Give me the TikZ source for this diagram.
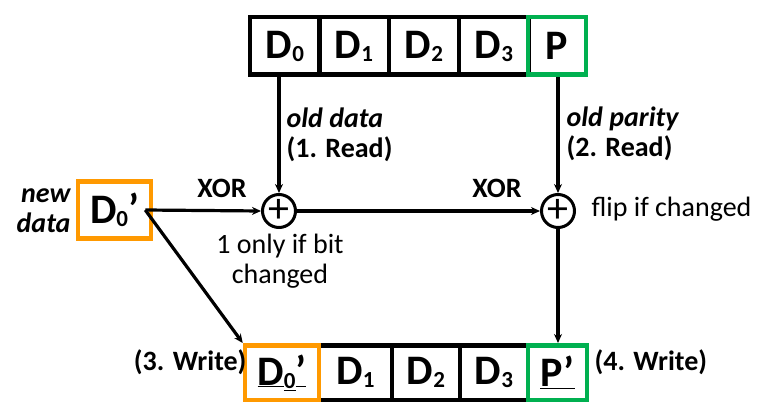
\documentclass[tikz,border=0pt]{standalone}
\usepackage{fontspec}
\setmainfont{Carlito}
\usepackage{tikz}
\usetikzlibrary{positioning,arrows.meta}
\definecolor{cellorange}{RGB}{255,153,0}
\definecolor{cellgreen}{RGB}{0,176,80}
\newcommand{\lowidx}[1]{\raisebox{-3pt}{\fontsize{23}{23}\selectfont #1}}
\tikzset{%
  every cell/.style={
    draw,
    line width=4.5pt,
    inner sep=0pt,
    font=\fontsize{42}{44}\selectfont\bfseries
  },
  xor gate/.style={
    circle,
    draw,
    line width=3pt,
    minimum size=33pt,
    inner sep=0pt,
    font=\fontsize{42}{42}\selectfont
  },
  note text/.style={
    inner sep=0pt,
    font=\fontsize{28}{30}\selectfont
  },
  label text/.style={
    note text,
    font=\fontsize{28}{30}\selectfont\bfseries
  },
}

\begin{document}
\begin{tikzpicture}[x=1pt, y=-1pt, > = {Stealth[length=9pt,width=8pt]}, line width=3.2pt]
\useasboundingbox (0,0) rectangle (782,420);
    % stripe before the write
    \node[every cell, minimum width=70pt, minimum height=57.5pt] (d0) at (285,46) {D\lowidx{0}};
    \foreach \i/\x in {1/354,2/424,3/494}
        \node[every cell, minimum width=70pt, minimum height=57.5pt] (d\i) at (\x,46) {D\lowidx{\i}};
    \node[every cell, draw=cellgreen, minimum width=58pt, minimum height=57.5pt] (p) at (557,46) {P};
    % stripe after the write
    \foreach \i/\x/\w in {1/355.5/73,2/426/68,3/494/68}
        \node[every cell, minimum width=\w pt, minimum height=54.5pt] (w\i) at (\x,372.5) {D\lowidx{\i}};
    \node[every cell, draw=cellorange, minimum width=74pt, minimum height=54.5pt] (w0) at (282,372.5) {\underline{D}\lowidx{\underline{0}}\underline{’}};
    \node[every cell, draw=cellgreen, minimum width=59pt, minimum height=54.5pt] (pw) at (557.5,372.5) {\underline{P’}};
    % new value and the two xors
    \node[every cell, draw=cellorange, minimum width=73pt, minimum height=57pt] (newd) at (114.5,210) {D\lowidx{0}’};
    \node[xor gate] (x1) at (279,211) {+};
    \node[xor gate] (x2) at (558,211) {+};
    \coordinate (src) at ([xshift=-8pt]newd.east);
    \draw[->] (d0.south -| x1.north) -- (x1.north);
    \draw[->] (p.south -| x2.north) -- (x2.north);
    \draw[->] (src) -- (x1.west);
    \draw[->] (x1.east) -- (x2.west);
    \draw[->] (src) -- (w0.north west);
    \draw[->] (x2.south) -- (x2.south |- pw.north);
    % texts
    \node[label text, anchor=base east, align=right] (newlbl) at (72,232) {\itshape new\\\itshape data};
    \node[label text, anchor=base] (xorA) at (222,197) {XOR};
    \node[label text, anchor=base] (xorB) at (497,197) {XOR};
    \node[label text, anchor=base west, align=left] (rd1) at (285,157) {\itshape old data\\(1. Read)};
    \node[label text, anchor=base west, align=left] (rd2) at (565,156) {\itshape old parity\\(2. Read)};
    \node[note text, anchor=base, align=center] (bitlbl) at (280,283) {1 only if bit\\changed};
    \node[note text, anchor=base west] (fliplbl) at (590,216) {flip if changed};
    \node[label text, anchor=base east] (wr3) at (248,370) {(3. Write)};
    \node[label text, anchor=base west] (wr4) at (593,370) {(4. Write)};
\end{tikzpicture}
\end{document}
